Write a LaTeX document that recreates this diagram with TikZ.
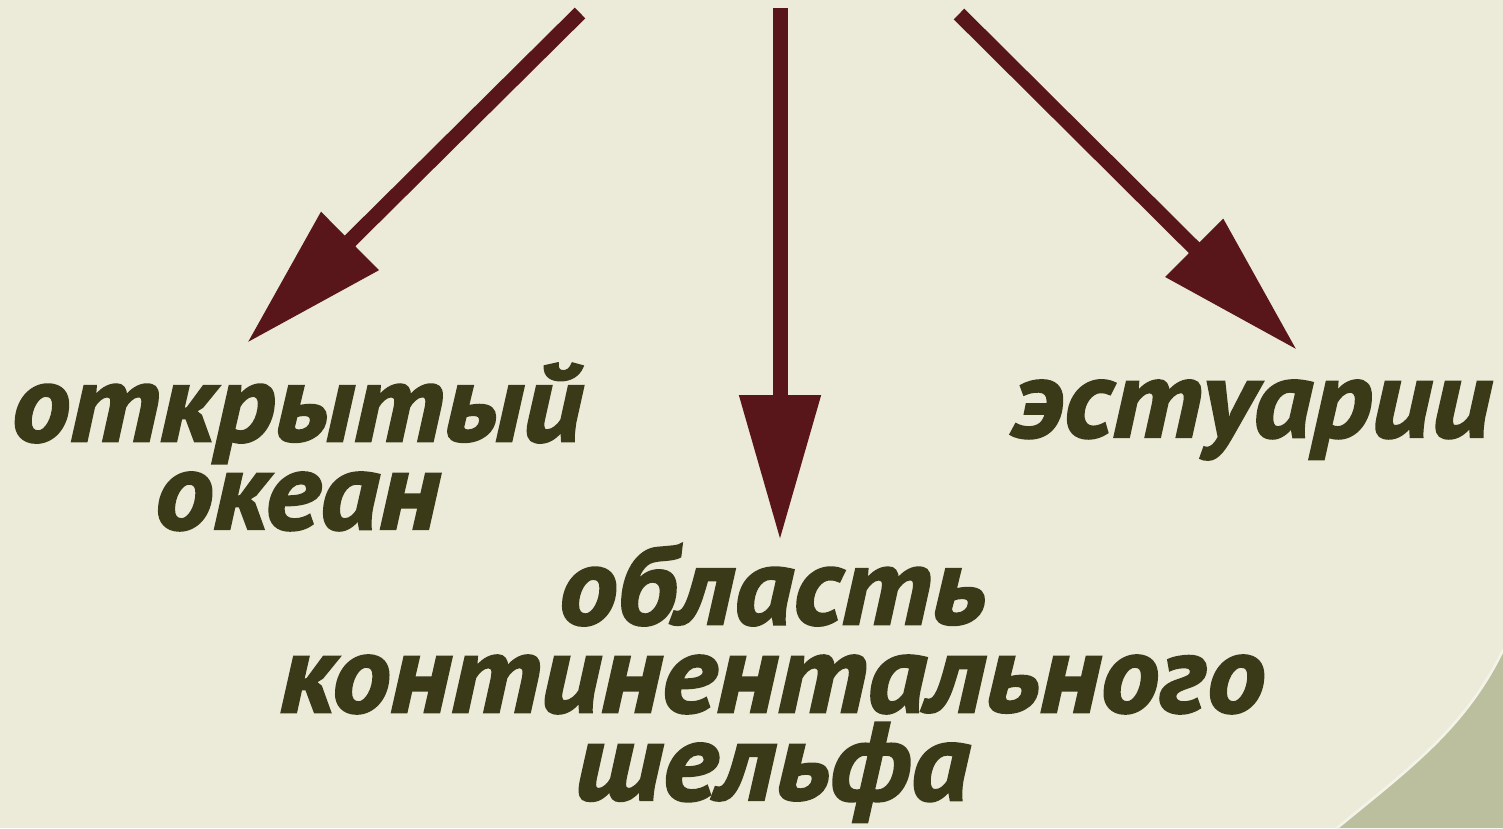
\documentclass[tikz,border=0pt]{standalone}
\usepackage{fontspec}
\setmainfont{PT Sans}
\newfontfamily\labelfont{PT Sans Bold Italic}[FakeBold=2, FakeStretch=1.06]
\usetikzlibrary{arrows.meta,positioning}
\definecolor{cream}{HTML}{ECEBD9}
\definecolor{sage}{HTML}{BBBF9D}
\definecolor{maroon}{HTML}{58161A}
\definecolor{olive}{HTML}{3A3A18}

\begin{document}
\begin{tikzpicture}[
  font=\labelfont\fontsize{63}{50}\selectfont,
  habitat/.style={text=olive, align=center, inner sep=0pt},
  flow/.style={draw=maroon, line width=0.3cm,
    -{Triangle[length=2.9cm, width=1.56cm]}}
]
\useasboundingbox (0,0) rectangle (30.06,16.56);
\fill[cream] (0,0) rectangle (30.06,16.56);
% corner of the panel below
\fill[sage] (26.74,0) .. controls (28.2,1.2) and (29.3,2.0) .. (30.06,3.56) -- (30.06,0) -- cycle;
\draw[cream!60!white, line width=1.5pt] (26.74,0) .. controls (28.2,1.2) and (29.3,2.0) .. (30.06,3.56);

\coordinate (top1) at (11.6,16.3);
\coordinate (top2) at (15.6,16.4);
\coordinate (top3) at (19.18,16.28);
\coordinate (tip1) at (4.94,9.70);
\coordinate (tip2) at (15.6,5.76);
\coordinate (tip3) at (25.94,9.56);

\node[habitat] (ocean) at (5.95,7.62) {открытый\\океан};
\node[habitat] (shelf) at (15.45,2.9) {область\\континентального\\шельфа};
\node[habitat] (estuary) at (25.05,8.16) {эстуарии};

\draw[flow] (top1) -- (tip1);
\draw[flow] (top2) -- (tip2);
\draw[flow] (top3) -- (tip3);
\end{tikzpicture}
\end{document}
